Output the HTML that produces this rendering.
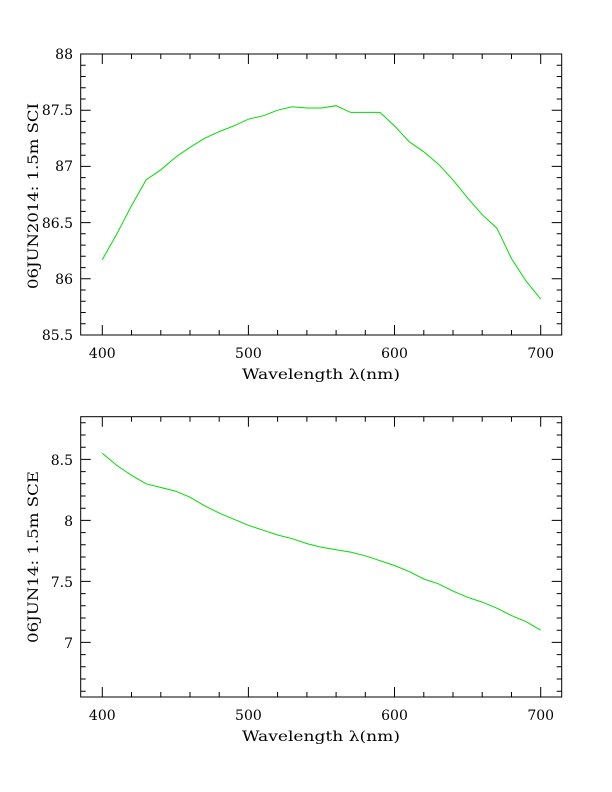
<!DOCTYPE html>
<html><head><meta charset="utf-8"><style>
html,body{margin:0;padding:0;background:#fff;}
svg{display:block;}
text{font-family:"DejaVu Serif","Liberation Serif",serif;font-size:14px;fill:#000;}
</style></head><body>
<svg width="612" height="792" viewBox="0 0 612 792" xmlns="http://www.w3.org/2000/svg">
<g fill="none" stroke="#000" stroke-width="1">
<rect x="80.7" y="54" width="481" height="281"/>
<g id="tl">
<path d="M80.7 54h10M80.7 110.2h10M80.7 166.4h10M80.7 222.6h10M80.7 278.8h10M80.7 335h10"/>
<path d="M80.7 65.2h5M80.7 76.5h5M80.7 87.7h5M80.7 99h5M80.7 121.4h5M80.7 132.7h5M80.7 143.9h5M80.7 155.2h5M80.7 177.6h5M80.7 188.9h5M80.7 200.1h5M80.7 211.4h5M80.7 233.8h5M80.7 245.1h5M80.7 256.3h5M80.7 267.6h5M80.7 290h5M80.7 301.3h5M80.7 312.5h5M80.7 323.8h5"/>
</g>
<use href="#tl" transform="translate(642.4,0) scale(-1,1)"/>
<g id="tb">
<path d="M102.3 335v-10M248.4 335v-10M394.5 335v-10M540.7 335v-10"/>
<path d="M131.5 335v-5M160.8 335v-5M190 335v-5M219.2 335v-5M277.6 335v-5M306.9 335v-5M336.1 335v-5M365.3 335v-5M423.8 335v-5M453 335v-5M482.2 335v-5M511.5 335v-5"/>
</g>
<use href="#tb" transform="translate(0,389) scale(1,-1)"/>
<rect x="80.7" y="416.7" width="481" height="280.3"/>
<g id="bl">
<path d="M80.7 459.4h10M80.7 520.4h10M80.7 581.4h10M80.7 642.4h10"/>
<path d="M80.7 691.2h5M80.7 679h5M80.7 666.8h5M80.7 654.6h5M80.7 630.2h5M80.7 618h5M80.7 605.8h5M80.7 593.6h5M80.7 569.2h5M80.7 557h5M80.7 544.8h5M80.7 532.6h5M80.7 508.2h5M80.7 496h5M80.7 483.8h5M80.7 471.6h5M80.7 447.2h5M80.7 435h5M80.7 422.8h5"/>
</g>
<use href="#bl" transform="translate(642.4,0) scale(-1,1)"/>
<g id="bb">
<path d="M102.3 697v-10M248.4 697v-10M394.5 697v-10M540.7 697v-10"/>
<path d="M131.5 697v-5M160.8 697v-5M190 697v-5M219.2 697v-5M277.6 697v-5M306.9 697v-5M336.1 697v-5M365.3 697v-5M423.8 697v-5M453 697v-5M482.2 697v-5M511.5 697v-5"/>
</g>
<use href="#bb" transform="translate(0,1113.7) scale(1,-1)"/>
</g>
<g fill="none" stroke="#00dd00" stroke-width="1">
<polyline points="102.3,259.7 116.9,233.8 131.5,205.7 146.1,179.9 160.8,169.8 175.4,157.4 190,147.3 204.6,138.3 219.2,131.6 233.8,125.9 248.4,119.2 263.1,115.8 277.6,110.2 292.3,106.8 306.9,108 321.5,108 336.1,105.7 350.7,112.4 365.3,112.4 380,112.4 394.5,125.9 409.2,141.7 423.8,151.8 438.4,164.2 453,179.9 467.6,197.9 482.2,214.7 496.9,228.2 511.5,258.6 526.1,281.1 540.7,299.1"/>
<polyline points="102.3,453.3 116.9,465.5 131.5,475.3 146.1,483.8 160.8,487.5 175.4,491.1 190,497.2 204.6,505.8 219.2,513.1 233.8,519.2 248.4,525.3 263.1,530.2 277.6,535 292.3,538.7 306.9,543.6 321.5,547.2 336.1,549.7 350.7,552.1 365.3,555.8 380,560.7 394.5,565.5 409.2,571.6 423.8,579 438.4,583.8 453,591.1 467.6,597.3 482.2,602.1 496.9,608.2 511.5,615.6 526.1,621.7 540.7,630.2"/>
</g>
<g text-anchor="end">
<text x="73" y="59">88</text>
<text x="73" y="115">87.5</text>
<text x="73" y="171">87</text>
<text x="73" y="228">86.5</text>
<text x="73" y="284">86</text>
<text x="73" y="340">85.5</text>
<text x="73" y="465">8.5</text>
<text x="73" y="526">8</text>
<text x="73" y="587">7.5</text>
<text x="73" y="648">7</text>
</g>
<g text-anchor="middle">
<text x="102.3" y="358">400</text>
<text x="248.4" y="358">500</text>
<text x="394.5" y="358">600</text>
<text x="540.7" y="358">700</text>
<text x="321" y="379" textLength="158" lengthAdjust="spacingAndGlyphs">Wavelength λ(nm)</text>
<text x="102.3" y="720">400</text>
<text x="248.4" y="720">500</text>
<text x="394.5" y="720">600</text>
<text x="540.7" y="720">700</text>
<text x="321" y="741" textLength="158" lengthAdjust="spacingAndGlyphs">Wavelength λ(nm)</text>
<text transform="translate(38,196) rotate(-90)" textLength="186" lengthAdjust="spacingAndGlyphs">06JUN2014: 1.5m SCI</text>
<text transform="translate(38,557) rotate(-90)" textLength="172" lengthAdjust="spacingAndGlyphs">06JUN14: 1.5m SCE</text>
</g>
</svg>
</body></html>
